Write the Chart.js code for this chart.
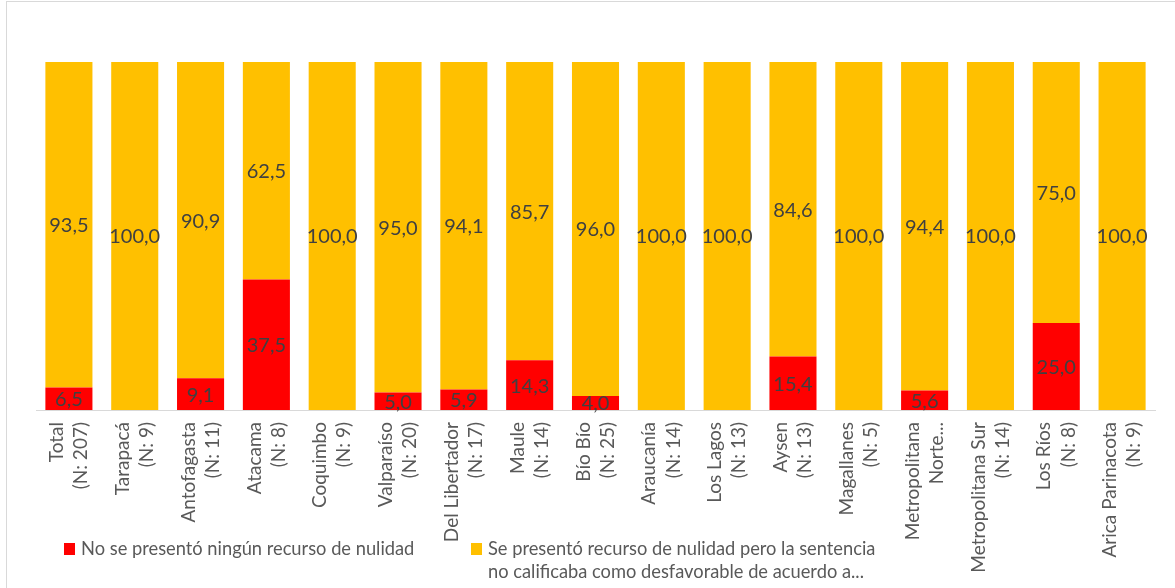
<!DOCTYPE html>
<html>
<head>
<meta charset="utf-8">
<script src="https://cdn.jsdelivr.net/npm/chart.js@4.4.1/dist/chart.umd.min.js"></script>
<style>
  html, body { margin: 0; padding: 0; background: #fff; }
  #wrap { position: relative; width: 1175px; height: 588px; overflow: hidden; font-family: Lato, sans-serif; }
  #frame { position: absolute; left: 6px; top: 1px; width: 1300px; height: 700px; border: 1px solid #d9d9d9; }
  #chart { position: absolute; left: 0; top: 0; }
  .leg { position: absolute; color: #595959; font-size: 18.3px; line-height: 23px; white-space: nowrap; }
  .leg .sw { position: absolute; left: 0; top: 6px; width: 11px; height: 12px; }
  .leg .tx { margin-left: 17px; }
</style>
</head>
<body>
<div id="wrap">
  <div id="frame"></div>
  <canvas id="chart" width="1175" height="588"></canvas>
  <div class="leg" style="left:64px; top:537px;"><span class="sw" style="background:#FF0000"></span><div class="tx" id="leg0"></div></div>
  <div class="leg" style="left:471px; top:537px;"><span class="sw" style="background:#FFC000"></span><div class="tx" id="leg1"></div></div>
</div>
<script>
const categories = [
  ['Total', '(N: 207)'], ['Tarapacá', '(N: 9)'], ['Antofagasta', '(N: 11)'], ['Atacama', '(N: 8)'],
  ['Coquimbo', '(N: 9)'], ['Valparaíso', '(N: 20)'], ['Del Libertador', '(N: 17)'], ['Maule', '(N: 14)'],
  ['Bío Bío', '(N: 25)'], ['Araucanía', '(N: 14)'], ['Los Lagos', '(N: 13)'], ['Aysen', '(N: 13)'],
  ['Magallanes', '(N: 5)'], ['Metropolitana', 'Norte...'], ['Metropolitana Sur', '(N: 14)'],
  ['Los Ríos', '(N: 8)'], ['Arica Parinacota', '(N: 9)']
];
const sinRecurso = [6.5, null, 9.1, 37.5, null, 5.0, 5.9, 14.3, 4.0, null, null, 15.4, null, 5.6, null, 25.0, null];
const conRecurso = [93.5, 100, 90.9, 62.5, 100, 95.0, 94.1, 85.7, 96.0, 100, 100, 84.6, 100, 94.4, 100, 75.0, 100];
const seriesNames = [
  'No se presentó ningún recurso de nulidad',
  ['Se presentó recurso de nulidad pero la sentencia', 'no calificaba como desfavorable de acuerdo a...']
];

document.getElementById('leg0').textContent = seriesNames[0];
document.getElementById('leg1').innerHTML = seriesNames[1].join('<br>');

const valueLabels = {
  id: 'valueLabels',
  afterDatasetsDraw(chart) {
    const ctx = chart.ctx;
    ctx.save();
    ctx.font = '20px Lato, sans-serif';
    ctx.fillStyle = '#404040';
    ctx.textAlign = 'center';
    ctx.textBaseline = 'middle';
    chart.data.datasets.forEach((ds, i) => {
      chart.getDatasetMeta(i).data.forEach((bar, j) => {
        const v = ds.data[j];
        if (v == null || v <= 0) return;
        ctx.fillText(v.toFixed(1).replace('.', ','), bar.x, (bar.y + bar.base) / 2 + 1);
      });
    });
    ctx.restore();
  }
};

new Chart(document.getElementById('chart'), {
  type: 'bar',
  data: {
    labels: categories,
    datasets: [
      { label: seriesNames[0], data: sinRecurso, backgroundColor: '#FF0000' },
      { label: seriesNames[1].join(' '), data: conRecurso, backgroundColor: '#FFC000' }
    ]
  },
  options: {
    responsive: false,
    animation: false,
    categoryPercentage: 1,
    barPercentage: 0.715,
    layout: { padding: { left: 36, right: 20, top: 62, bottom: 8 } },
    plugins: { legend: { display: false }, tooltip: { enabled: false } },
    scales: {
      x: {
        stacked: true,
        grid: { display: false, drawTicks: false },
        border: { display: true, color: '#d9d9d9', width: 1 },
        ticks: {
          autoSkip: false, minRotation: 90, maxRotation: 90, padding: 12, labelOffset: -12,
          color: '#595959', font: { family: 'Lato, sans-serif', size: 19, lineHeight: 1.27 }
        },
        afterFit(scale) {
          scale.height = 170;
          scale.paddingLeft = 0;
          scale.paddingRight = 0;
        }
      },
      y: { stacked: true, display: false, min: 0, max: 100 }
    }
  },
  plugins: [valueLabels]
});
</script>
</body>
</html>
